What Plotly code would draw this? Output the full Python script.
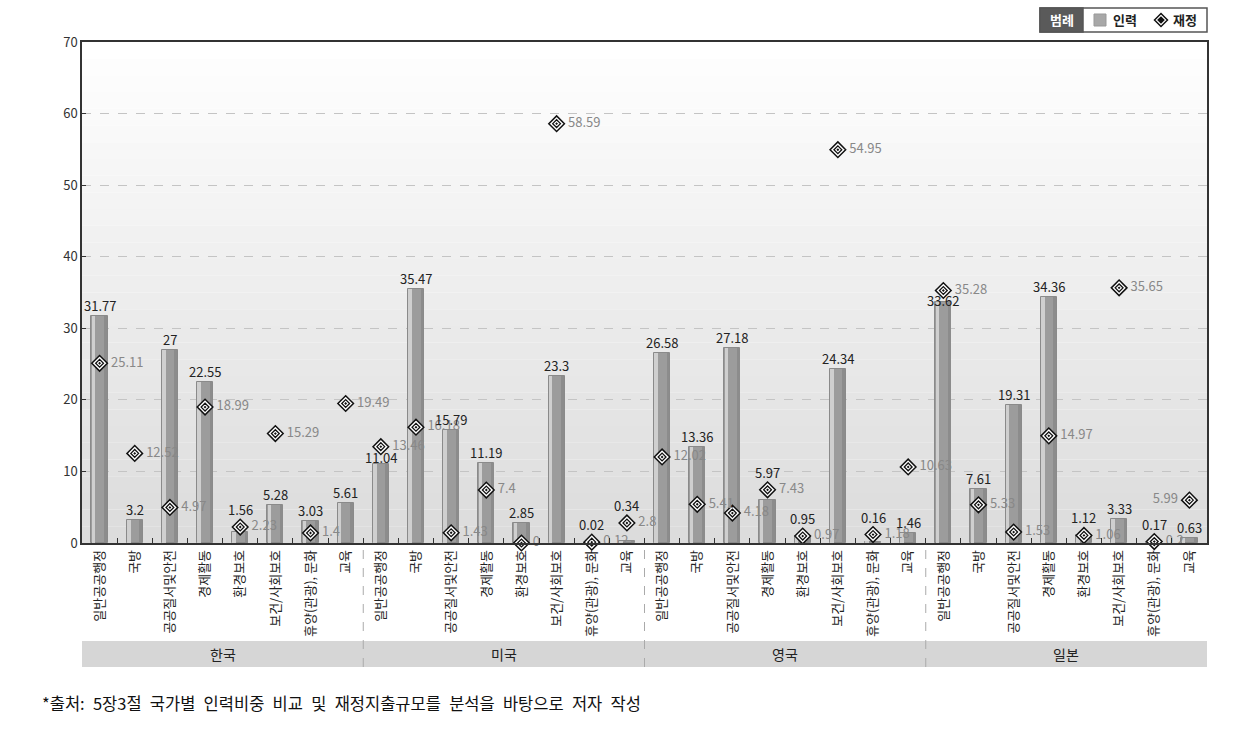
import plotly.graph_objects as go

countries = ["한국", "미국", "영국", "일본"]
sectors = ["일반공공행정", "국방", "공공질서및안전", "경제활동", "환경보호",
           "보건/사회보호", "휴양(관광), 문화", "교육"]

manpower_kr = [31.77, 3.2, 27, 22.55, 1.56, 5.28, 3.03, 5.61]
manpower_us = [11.04, 35.47, 15.79, 11.19, 2.85, 23.3, 0.02, 0.34]
manpower_uk = [26.58, 13.36, 27.18, 5.97, 0.95, 24.34, 0.16, 1.46]
manpower_jp = [33.62, 7.61, 19.31, 34.36, 1.12, 3.33, 0.17, 0.63]

finance_kr = [25.11, 12.52, 4.97, 18.99, 2.23, 15.29, 1.4, 19.49]
finance_us = [13.46, 16.18, 1.43, 7.4, 0, 58.59, 0.12, 2.8]
finance_uk = [12.02, 5.41, 4.18, 7.43, 0.97, 54.95, 1.18, 10.63]
finance_jp = [35.28, 5.33, 1.53, 14.97, 1.06, 35.65, 0.2, 5.99]

y_ticks = [0, 10, 20, 30, 40, 50, 60, 70]
legend_title = "범례"
series_names = ["인력", "재정"]
source_note = "*출처: 5장3절 국가별 인력비중 비교 및 재정지출규모를 분석을 바탕으로 저자 작성"

manpower = manpower_kr + manpower_us + manpower_uk + manpower_jp
finance = finance_kr + finance_us + finance_uk + finance_jp
labels = sectors * len(countries)
n = len(labels)
xs = list(range(n))

FONT = "Noto Sans CJK KR, Noto Sans, sans-serif"

# pixel -> paper helpers (plot area 82..1207 x, 42..543 y)
PL, PR, PT, PB = 82, 1207, 42, 543
YMAX = 70
SCALE = (PB - PT) / YMAX  # px per unit
def px(x):
    return (x - PL) / (PR - PL)
def py(y):
    return (PB - y) / (PB - PT)

fig = go.Figure()

# background gradient bands (decoration)
steps = 30
for i in range(steps):
    t = i / steps
    g = int(255 - 36 * t)
    fig.add_shape(type="rect", xref="paper", yref="paper",
                  x0=0, x1=1, y0=1 - (i + 1) / steps, y1=1 - i / steps,
                  fillcolor=f"rgb({g},{g},{g})", line=dict(width=0), layer="below")

# main bars
fig.add_trace(go.Bar(
    x=xs, y=manpower, width=0.46, name=series_names[0], showlegend=False,
    marker=dict(color="#9c9c9c", line=dict(color="#8a8a8a", width=1)),
    cliponaxis=False,
))
fig.add_trace(go.Bar(
    x=xs, y=manpower, width=0.1, offset=-0.22, showlegend=False,
    marker=dict(color="#cfcfcf", line=dict(width=0)), hoverinfo="skip",
))
fig.add_trace(go.Bar(
    x=xs, y=manpower, width=0.08, offset=0.13, showlegend=False,
    marker=dict(color="#8c8c8c", line=dict(width=0)), hoverinfo="skip",
))

# bar value labels; moved off the diamond when they would collide with it
for i, (m, f) in enumerate(zip(manpower, finance)):
    diff_px = (f - m) * SCALE - 8
    shift = 0
    if abs(diff_px) < 12:
        if m < 10:
            shift = (f - m) * SCALE + 7      # lift above the diamond
        else:
            shift = (f - m) * SCALE - 21     # drop just below the diamond
    fig.add_annotation(x=i, y=m, xref="x", yref="y", text=f"{m:g}",
                       showarrow=False, xanchor="center", yanchor="bottom",
                       yshift=shift, borderpad=0,
                       font=dict(size=13, color="#222", family=FONT))

positions = ["middle right"] * (n - 1) + ["middle left"]
fig.add_trace(go.Scatter(
    x=xs, y=finance, mode="markers+text", name=series_names[1], showlegend=False,
    marker=dict(symbol="diamond", size=12, color="white",
                line=dict(color="#111", width=1.5)),
    text=[f" {v:g}" if p == "middle right" else f"{v:g} " for v, p in zip(finance, positions)],
    textposition=positions,
    textfont=dict(size=13, color="#888", family=FONT),
    cliponaxis=False,
))
fig.add_trace(go.Scatter(
    x=xs, y=finance, mode="markers", showlegend=False, hoverinfo="skip",
    marker=dict(symbol="diamond-dot", size=6, color="white",
                line=dict(color="#111", width=1.3)),
    cliponaxis=False,
))

# group separators and band
band_top = py(641)
band_bot = py(667)
fig.add_shape(type="rect", xref="paper", yref="paper", x0=0, x1=1,
              y0=band_bot, y1=band_top, fillcolor="#d6d6d6",
              line=dict(width=0), layer="below")
for k in range(1, len(countries)):
    b = k * len(sectors) - 0.5
    fig.add_shape(type="line", xref="x", yref="paper", x0=b, x1=b,
                  y0=band_bot, y1=0, line=dict(color="#aaa", width=1, dash="dash"))
for k, c in enumerate(countries):
    fig.add_annotation(x=k * len(sectors) + (len(sectors) - 1) / 2, y=(band_top + band_bot) / 2,
                       xref="x", yref="paper", xanchor="center", yanchor="middle",
                       text=c, showarrow=False,
                       font=dict(size=14, color="#222", family=FONT))

# manual legend
fig.add_shape(type="rect", xref="paper", yref="paper",
              x0=px(1040), x1=px(1207), y0=py(32), y1=py(8),
              fillcolor="white", line=dict(color="#555", width=1.5))
fig.add_shape(type="rect", xref="paper", yref="paper",
              x0=px(1040), x1=px(1083), y0=py(32), y1=py(8),
              fillcolor="#5a5a5a", line=dict(color="#555", width=1.5))
fig.add_annotation(xref="paper", yref="paper", x=px(1061.5), y=py(20),
                   xanchor="center", yanchor="middle",
                   text=f"<b>{legend_title}</b>", showarrow=False,
                   font=dict(size=13, color="white", family=FONT))
fig.add_shape(type="rect", xref="paper", yref="paper",
              x0=px(1094), x1=px(1106), y0=py(26), y1=py(14),
              fillcolor="#a8a8a8", line=dict(color="#999", width=1))
fig.add_annotation(xref="paper", yref="paper", x=px(1111), y=py(20),
                   xanchor="left", yanchor="middle",
                   text=f"<b>{series_names[0]}</b>", showarrow=False,
                   font=dict(size=13, color="#222", family=FONT))
cx, cy = 1161, 20
for h, w in [(6.5, 1.5), (3, 1.2)]:
    fig.add_shape(type="path", xref="paper", yref="paper",
                  path=(f"M {px(cx - h)},{py(cy)} L {px(cx)},{py(cy - h)} "
                        f"L {px(cx + h)},{py(cy)} L {px(cx)},{py(cy + h)} Z"),
                  fillcolor="white" if h > 5 else "#111",
                  line=dict(color="#111", width=w))
fig.add_annotation(xref="paper", yref="paper", x=px(1171), y=py(20),
                   xanchor="left", yanchor="middle",
                   text=f"<b>{series_names[1]}</b>", showarrow=False,
                   font=dict(size=13, color="#222", family=FONT))

fig.add_annotation(xref="paper", yref="paper", x=px(40), y=py(703),
                   xanchor="left", yanchor="middle",
                   text=source_note.replace(" ", "\u2002"), showarrow=False,
                   font=dict(size=16.5, color="#111", family=FONT))

fig.update_layout(
    width=1244, height=730,
    margin=dict(l=PL, r=1244 - PR, t=PT, b=730 - PB),
    barmode="overlay", bargap=0,
    paper_bgcolor="white", plot_bgcolor="rgba(0,0,0,0)",
    font=dict(family=FONT, size=13, color="#222"),
    showlegend=False,
    xaxis=dict(range=[-0.5, n - 0.5], tickmode="array", tickvals=xs, ticktext=labels,
               tickangle=-90, ticks="", showgrid=False, zeroline=False,
               showline=True, linecolor="#333", linewidth=1.5, mirror=True,
               tickfont=dict(size=13, color="#222", family=FONT)),
    xaxis2=dict(range=[-0.5, n - 0.5], overlaying="x", side="bottom",
                tickmode="array", tickvals=[i + 0.5 for i in range(n - 1)],
                ticktext=[""] * (n - 1), ticks="inside", ticklen=5,
                tickcolor="#333", showgrid=False, zeroline=False, showline=False),
    yaxis=dict(range=[0, YMAX], tickmode="array", tickvals=y_ticks,
               showgrid=True, gridcolor="#c4c4c4", griddash="dash",
               zeroline=False, showline=True, linecolor="#333", linewidth=1.5,
               mirror=True, ticks="inside", ticklen=4, tickcolor="#333",
               tickfont=dict(size=13, color="#333", family=FONT)),
)
fig.add_trace(go.Scatter(x=[0], y=[0], xaxis="x2", mode="markers",
                         marker=dict(opacity=0), showlegend=False, hoverinfo="skip"))

fig.write_html("out.html")
